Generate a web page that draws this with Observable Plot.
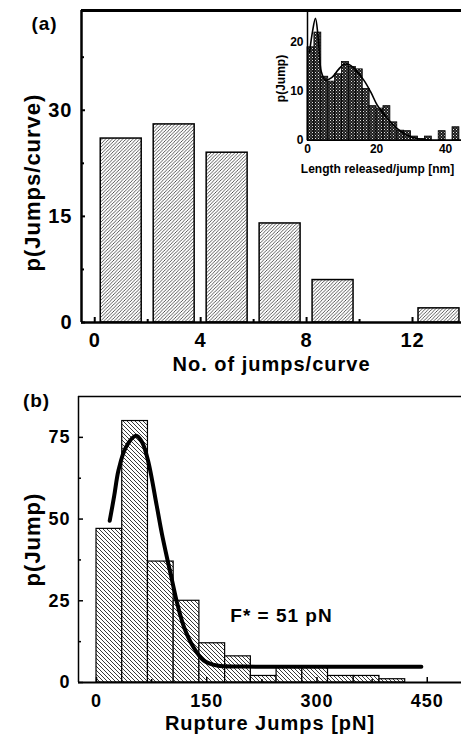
<!DOCTYPE html>
<html><head><meta charset="utf-8">
<script src="https://cdn.jsdelivr.net/npm/d3@7"></script>
<script src="https://cdn.jsdelivr.net/npm/@observablehq/plot@0.6"></script>
<style>
html,body{margin:0;padding:0;background:#fff;overflow:hidden}
#wrap{position:relative;width:461px;height:734px}
#wrap > div{position:absolute;left:0}
svg text{font-family:"Liberation Sans",Arial,sans-serif;font-weight:bold}
#pa text,#pb text{letter-spacing:1px}
</style></head><body>
<svg width="0" height="0" style="position:absolute">
<defs>
<pattern id="hatchA" patternUnits="userSpaceOnUse" width="3.4" height="3.4">
<rect width="3.4" height="3.4" fill="white"/>
<path d="M-1,1 L1,-1 M0,3.4 L3.4,0 M2.4,4.4 L4.4,2.4" stroke="#222" stroke-width="0.75"/>
</pattern>
<pattern id="hatchB" patternUnits="userSpaceOnUse" width="4" height="4">
<rect width="4" height="4" fill="white"/>
<path d="M-1,3 L1,5 M0,0 L4,4 M3,-1 L5,1" stroke="#222" stroke-width="0.9"/>
</pattern>
<pattern id="speck" patternUnits="userSpaceOnUse" width="3" height="3">
<rect width="3" height="3" fill="#1e1e1e"/>
<rect x="0" y="0" width="1" height="1" fill="#e0e0e0"/>
<rect x="1.5" y="1.5" width="1" height="1" fill="#999"/>
</pattern>
</defs>
</svg>
<div id="wrap">
<div id="pa" style="top:0"></div>
<div id="pin" style="top:0;left:270px"></div>
<div id="pb" style="top:370px"></div>
</div>
<script>
// ---- Panel (a): jumps per curve ----
const jumpsBinStart = [0, 2, 4, 6, 8, 10, 12];
const jumpsBinEnd   = [2, 4, 6, 8, 10, 12, 14];
const jumpsCount    = [26, 28, 24, 14, 6, 0, 2];
const aXTicks = [0, 4, 8, 12];
const aXMinor = [2, 6, 10];
const aYTicks = [0, 15, 30];
const aYMinor = [7.5, 22.5, 37.5];
const aXDomain = [-0.5, 13.85];
const aYDomain = [0, 44.1];

// ---- Inset: length released per jump ----
const lenBinStart = [0,2,4,6,8,10,12,14,16,18,20,22,24,26,28,30,32,34,36,38,40,42];
const lenBinEnd   = [2,4,6,8,10,12,14,16,18,20,22,24,26,28,30,32,34,36,38,40,42,44];
const lenCount    = [19,22,13,12,13.5,16,15,14.5,10.5,7,6.5,7,3.7,2,1.9,0.8,0.3,0.8,0,1.9,0,2.7];
const lenFitX = [0.6,1.4,2.3,3.1,4.0,5.2,7,9,10.5,12,13.5,16.3,18.3,20.2,22.1,24,26,28,29,32.3,36,44.5];
const lenFitY = [18,22,24.9,21,14,12.3,12.8,14.5,15.5,15.5,14.7,12.3,9.9,7.2,5.4,3.8,2.4,1.4,1.0,0.3,0.1,0.1];
const inXTicks = [0, 20, 40];
const inYTicks = [0, 10, 20];
const inXDomain = [0, 44.6];
const inYDomain = [0, 26.5];

// ---- Panel (b): rupture jumps ----
const ruptBinStart = [0,35,70,105,140,175,210,245,280,315,350,385];
const ruptBinEnd   = [35,70,105,140,175,210,245,280,315,350,385,420];
const ruptCount    = [47,80,37,25,12,8,2,4.5,4.5,2,2,1];
const ruptFitX = [18,24,30,40,54,62,70,82,89,103,110,119,132,146,164,200,300,442];
const ruptFitY = [49.5,57,65,72,75.5,73.5,68,54,45.5,31,24,17,10.8,6.7,5.2,4.9,4.8,4.8];
const bXTicks = [0, 150, 300, 450];
const bXMinor = [75, 225, 375];
const bYTicks = [0, 25, 50, 75];
const bYMinor = [12.5, 37.5, 62.5];
const bXDomain = [-24.5, 496.6];
const bYDomain = [0, 87.5];
const annotB = [{x: 182, y: 20.5, text: "F* = 51 pN"}];

const FONT = "Liberation Sans";
const none = () => "";

const jumps = jumpsBinStart.map((s, i) => ({s, e: jumpsBinEnd[i], c: jumpsCount[i]})).filter(d => d.c > 0);
const lens = lenBinStart.map((s, i) => ({s, e: lenBinEnd[i], c: lenCount[i]})).filter(d => d.c > 0);
const lenFit = lenFitX.map((x, i) => ({x, y: lenFitY[i]}));
const rupts = ruptBinStart.map((s, i) => ({s, e: ruptBinEnd[i], c: ruptCount[i]}));
const ruptFit = ruptFitX.map((x, i) => ({x, y: ruptFitY[i]}));

const pa = Plot.plot({
  width: 461, height: 380,
  marginTop: 10, marginLeft: 81, marginRight: 0, marginBottom: 58,
  style: {fontFamily: FONT, background: "transparent"},
  x: {domain: aXDomain},
  y: {domain: aYDomain},
  marks: [
    Plot.rectY(jumps, {x1: "s", x2: "e", y: "c", fill: "url(#hatchA)", stroke: "black", strokeWidth: 1.5, insetLeft: 6, insetRight: 6}),
    Plot.ruleY([0], {strokeWidth: 2.5}),
    Plot.ruleY([aYDomain[1]], {strokeWidth: 3}),
    Plot.ruleX([aXDomain[0]], {strokeWidth: 2.5}),
    Plot.axisX({ticks: aXTicks, tickSize: 0, tickPadding: 10, fontSize: 20, fontWeight: "bold", label: null}),
    Plot.axisX({ticks: aXTicks, tickSize: -5, strokeWidth: 2, tickFormat: none, label: null}),
    Plot.axisX({ticks: aXMinor, tickSize: -3, strokeWidth: 2, tickFormat: none, label: null}),
    Plot.axisY({ticks: aYTicks, tickSize: 0, tickPadding: 9, fontSize: 20, fontWeight: "bold", label: null}),
    Plot.axisY({ticks: aYTicks, tickSize: -4, strokeWidth: 2, tickFormat: none, label: null}),
    Plot.axisY({ticks: aYMinor, tickSize: -3, strokeWidth: 2, tickFormat: none, label: null}),
    Plot.text(["No. of jumps/curve"], {frameAnchor: "bottom", textAnchor: "middle", lineAnchor: "middle", dy: 42, fontSize: 20, fontWeight: "bold"}),
    Plot.text(["p(Jumps/curve)"], {frameAnchor: "left", textAnchor: "middle", lineAnchor: "middle", rotate: -90, dx: -49, dy: 16, fontSize: 22, fontWeight: "bold"}),
    Plot.text(["(a)"], {frameAnchor: "top-left", textAnchor: "middle", lineAnchor: "middle", dx: -37, dy: 13, fontSize: 19, fontWeight: "bold"})
  ]
});
document.getElementById("pa").appendChild(pa);

const pin = Plot.plot({
  width: 191, height: 180,
  marginTop: 10, marginLeft: 37, marginRight: 0, marginBottom: 40,
  style: {fontFamily: FONT, background: "transparent"},
  x: {domain: inXDomain},
  y: {domain: inYDomain},
  marks: [
    Plot.rectY(lens, {x1: "s", x2: "e", y: "c", fill: "url(#speck)", stroke: "black", strokeWidth: 0.8}),
    Plot.line(lenFit, {x: "x", y: "y", curve: "catmull-rom", strokeWidth: 1.6}),
    Plot.ruleY([0], {strokeWidth: 1}),
    Plot.ruleX([inXDomain[0]], {strokeWidth: 1.5}),
    Plot.axisX({ticks: inXTicks, tickSize: 0, tickPadding: 4, fontSize: 12, fontWeight: "bold", label: null}),
    Plot.axisY({ticks: inYTicks, tickSize: 0, tickPadding: 4, fontSize: 12, fontWeight: "bold", label: null}),
    Plot.text(["p(Jump)"], {frameAnchor: "left", textAnchor: "middle", lineAnchor: "middle", rotate: -90, dx: -26, dy: 3, fontSize: 12, fontWeight: "bold"}),
    Plot.text(["Length released/jump [nm]"], {frameAnchor: "bottom", textAnchor: "middle", lineAnchor: "middle", dx: -7, dy: 29, fontSize: 12, fontWeight: "bold"})
  ]
});
document.getElementById("pin").appendChild(pin);

const pb = Plot.plot({
  width: 461, height: 364,
  marginTop: 26, marginLeft: 78, marginRight: 0, marginBottom: 52,
  style: {fontFamily: FONT, background: "transparent"},
  x: {domain: bXDomain},
  y: {domain: bYDomain},
  marks: [
    Plot.rectY(rupts, {x1: "s", x2: "e", y: "c", fill: "url(#hatchB)", stroke: "black", strokeWidth: 1.2}),
    Plot.line(ruptFit, {x: "x", y: "y", curve: "catmull-rom", strokeWidth: 4}),
    Plot.ruleY([0], {strokeWidth: 2}),
    Plot.ruleY([bYDomain[1]], {strokeWidth: 1.5}),
    Plot.ruleX([bXDomain[0]], {strokeWidth: 1.5}),
    Plot.axisX({ticks: bXTicks, tickSize: 0, tickPadding: 12, fontSize: 18, fontWeight: "bold", label: null}),
    Plot.axisX({ticks: bXTicks, tickSize: -5, strokeWidth: 1.5, tickFormat: none, label: null}),
    Plot.axisX({ticks: bXMinor, tickSize: -3, strokeWidth: 1.5, tickFormat: none, label: null}),
    Plot.axisY({ticks: bYTicks, tickSize: 0, tickPadding: 8, fontSize: 18, fontWeight: "bold", label: null}),
    Plot.axisY({ticks: bYTicks, tickSize: -5, strokeWidth: 1.5, tickFormat: none, label: null}),
    Plot.axisY({ticks: bYMinor, tickSize: -3, strokeWidth: 1.5, tickFormat: none, label: null}),
    Plot.text(annotB, {x: "x", y: "y", text: "text", textAnchor: "start", lineAnchor: "middle", fontSize: 19, fontWeight: "bold"}),
    Plot.text(["Rupture Jumps [pN]"], {frameAnchor: "bottom", textAnchor: "middle", lineAnchor: "middle", dy: 41, fontSize: 20, fontWeight: "bold"}),
    Plot.text(["p(Jump)"], {frameAnchor: "left", textAnchor: "middle", lineAnchor: "middle", rotate: -90, dx: -46, dy: 0, fontSize: 22, fontWeight: "bold"}),
    Plot.text(["(b)"], {frameAnchor: "top-left", textAnchor: "middle", lineAnchor: "middle", dx: -42, dy: 4, fontSize: 19, fontWeight: "bold"})
  ]
});
document.getElementById("pb").appendChild(pb);
</script>
</body></html>
